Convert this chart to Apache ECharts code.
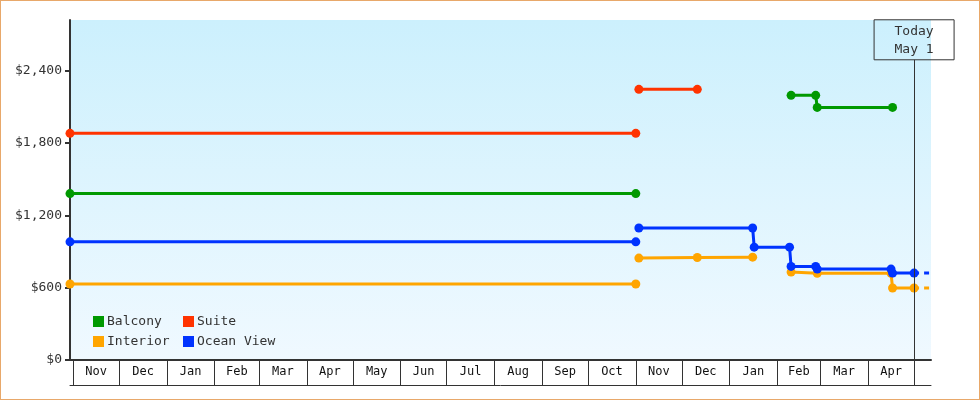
<!DOCTYPE html>
<html>
<head>
<meta charset="utf-8">
<script src="https://cdn.jsdelivr.net/npm/echarts@6/dist/echarts.min.js"></script>
<style>
  html, body { margin: 0; padding: 0; background: #fff; }
  #wrap { position: relative; width: 980px; height: 400px; }
  #chart { width: 980px; height: 400px; }
  #frame { position: absolute; left: 0; top: 0; width: 978px; height: 398px; border: 1px solid #e8a86a; pointer-events: none; }
</style>
</head>
<body>
<div id="wrap"><div id="chart"></div><div id="frame"></div></div>
<script>
// ---- data ----
const seriesNames = ['Balcony', 'Suite', 'Interior', 'Ocean View'];
const seriesColors = ['#009900', '#ff3300', '#ffa500', '#0033ff'];

// null price = gap in the line
const balconyDates  = ['2023-10-30', '2024-11-01', '2024-11-02', '2025-02-10', '2025-02-26', '2025-02-27', '2025-04-17'];
const balconyPrices = [1380, 1380, null, 2195, 2195, 2095, 2095];

const suiteDates  = ['2023-10-30', '2024-11-01', '2024-11-02', '2024-11-03', '2024-12-11'];
const suitePrices = [1880, 1880, null, 2245, 2245];

const interiorDates  = ['2023-10-30', '2024-11-01', '2024-11-02', '2024-11-03', '2024-12-11', '2025-01-16', '2025-01-20', '2025-02-10', '2025-02-27', '2025-04-16', '2025-04-17', '2025-05-01'];
const interiorPrices = [630, 630, null, 845, 850, 853, null, 729, 719, 719, 597, 597];

const oceanDates  = ['2023-10-30', '2024-11-01', '2024-11-02', '2024-11-03', '2025-01-16', '2025-01-17', '2025-02-09', '2025-02-10', '2025-02-26', '2025-02-27', '2025-04-16', '2025-04-17', '2025-05-01'];
const oceanPrices = [980, 980, null, 1095, 1095, 936, 936, 776, 776, 754, 754, 721, 721];

// dashed projection beyond today
const interiorProjDates  = ['2025-05-01', '2025-05-12'];
const interiorProjPrices = [597, 597];
const oceanProjDates  = ['2025-05-01', '2025-05-12'];
const oceanProjPrices = [721, 721];

const axisStart = '2023-10-30';
const axisEnd = '2025-05-12';
const todayDate = '2025-05-01';
const todayLabel = ['Today', 'May 1'];

const monthStarts = ['2023-11-01','2023-12-01','2024-01-01','2024-02-01','2024-03-01','2024-04-01','2024-05-01','2024-06-01','2024-07-01','2024-08-01','2024-09-01','2024-10-01','2024-11-01','2024-12-01','2025-01-01','2025-02-01','2025-03-01','2025-04-01','2025-05-01'];
const monthNames = ['Jan','Feb','Mar','Apr','May','Jun','Jul','Aug','Sep','Oct','Nov','Dec'];

const yTicks = [0, 600, 1200, 1800, 2400];

// ---- helpers ----
function ts(d) { const p = d.split('-').map(Number); return Date.UTC(p[0], p[1] - 1, p[2]); }
function build(dates, prices) {
  return dates.map((d, i) => prices[i] == null ? [ts(d), '-'] : [ts(d), prices[i]]);
}
const monthTicks = monthStarts.map(ts);
const monthMids = [];
for (let i = 0; i < monthTicks.length - 1; i++) monthMids.push((monthTicks[i] + monthTicks[i + 1]) / 2);

const FONT = 'DejaVu Sans Mono';
const allData = [
  build(balconyDates, balconyPrices),
  build(suiteDates, suitePrices),
  build(interiorDates, interiorPrices),
  build(oceanDates, oceanPrices)
];

const series = seriesNames.map((name, i) => ({
  name: name,
  type: 'line',
  data: allData[i],
  connectNulls: false,
  symbol: 'circle',
  symbolSize: 9,
  showSymbol: true,
  showAllSymbol: true,
  color: seriesColors[i],
  itemStyle: { color: seriesColors[i] },
  lineStyle: { color: seriesColors[i], width: 3 },
  emphasis: { disabled: true }
}));

series.push({
  name: 'Interior projection', type: 'line', data: build(interiorProjDates, interiorProjPrices),
  symbol: 'none', lineStyle: { color: seriesColors[2], width: 3, type: [5, 5] }, emphasis: { disabled: true }
});
series.push({
  name: 'Ocean View projection', type: 'line', data: build(oceanProjDates, oceanProjPrices),
  symbol: 'none', lineStyle: { color: seriesColors[3], width: 3, type: [5, 5] }, emphasis: { disabled: true },
  markLine: {
    silent: true,
    symbol: ['none', 'none'],
    lineStyle: { color: '#333', width: 1, type: 'solid' },
    label: {
      show: true, position: 'end', distance: 0,
      formatter: todayLabel.join('\n'),
      color: '#333', fontFamily: FONT, fontSize: 13, lineHeight: 18,
      borderColor: '#333', borderWidth: 1, padding: [3, 0, 1, 0], width: 80, align: 'center'
    },
    data: [[{ coord: [ts(todayDate), 0] }, { coord: [ts(todayDate), 2490] }]]
  }
});

const legendBase = {
  orient: 'vertical', top: 315, padding: 0,
  icon: 'rect', itemWidth: 11, itemHeight: 11, itemGap: 7,
  textStyle: { fontFamily: FONT, fontSize: 13, color: '#333', lineHeight: 11, padding: [0, 0, 0, -2] }
};

const chart = echarts.init(document.getElementById('chart'), null, { renderer: 'canvas' });
chart.setOption({
  animation: false,
  backgroundColor: '#fff',
  grid: {
    left: 70, right: 49, top: 20, bottom: 40, show: true, borderWidth: 0,
    backgroundColor: new echarts.graphic.LinearGradient(0, 0, 0, 1, [
      { offset: 0, color: '#ccf0fd' }, { offset: 1, color: '#f0f9ff' }
    ])
  },
  legend: [
    Object.assign({}, legendBase, { data: [seriesNames[0], seriesNames[2]], left: 93 }),
    Object.assign({}, legendBase, { data: [seriesNames[1], seriesNames[3]], left: 183 })
  ],
  xAxis: [
    {
      type: 'value', min: ts(axisStart), max: ts(axisEnd), scale: true,
      axisLine: { show: true, onZero: false, lineStyle: { color: '#333', width: 2 } },
      axisTick: { show: true, inside: false, length: 25, customValues: monthTicks, lineStyle: { color: '#333', width: 1 } },
      axisLabel: {
        show: true, customValues: monthMids, margin: 6, hideOverlap: false,
        fontFamily: FONT, fontSize: 12, color: '#111',
        formatter: function (v) { return monthNames[new Date(v).getUTCMonth()]; }
      },
      splitLine: { show: false }
    },
    {
      type: 'value', min: ts(axisStart), max: ts(axisEnd), scale: true, position: 'bottom', offset: 25,
      axisLine: { show: true, onZero: false, lineStyle: { color: '#333', width: 1 } },
      axisTick: { show: false }, axisLabel: { show: false }, splitLine: { show: false }
    }
  ],
  yAxis: {
    type: 'value', min: 0, max: 2820, interval: 600,
    axisLine: { show: true, lineStyle: { color: '#333', width: 2 } },
    axisTick: { show: true, inside: false, length: 5, customValues: yTicks, lineStyle: { color: '#333', width: 2 } },
    axisLabel: {
      customValues: yTicks, margin: 8, fontFamily: FONT, fontSize: 13, color: '#333',
      formatter: function (v) { return '$' + v.toLocaleString('en-US'); }
    },
    splitLine: { show: false }
  },
  series: series
});
</script>
</body>
</html>
